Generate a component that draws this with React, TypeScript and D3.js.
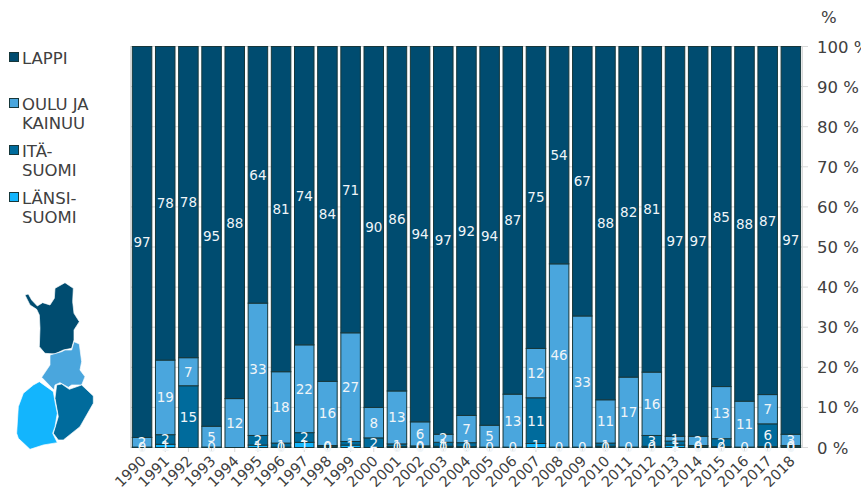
import React from "react";
import * as d3 from "d3";

const years = ["1990","1991","1992","1993","1994","1995","1996","1997","1998","1999","2000","2001","2002","2003","2004","2005","2006","2007","2008","2009","2010","2011","2012","2013","2014","2015","2016","2017","2018"];
const lansi = [0.1,0.8,0,0.1,0,0.6,0.1,1.3,0.2,0.6,0,0.2,0.1,0.3,0.2,0.1,0.1,1,0.1,0.1,0.3,0.1,0.3,0.6,0.2,0.2,0.1,0.2,0.3];
const ita = [0,2.4,15.4,0,0,2.4,1,2.4,0.3,0.9,2.4,0.7,0.3,1,1,0,0,11.4,0,0,0.8,0,2.7,1,0.3,2,0,5.7,0.2];
const oulu = [2.41,18.6,7,5.2,12.2,33,17.8,21.9,16,27.1,7.6,13.2,6,2,6.8,5.45,13.2,12.3,45.7,32.7,10.8,17.45,15.8,1.2,2.3,13,11.45,7.3,2.8];
const lappi = [97.49,78.2,77.6,94.7,87.8,64,81.1,74.4,83.5,71.4,90,85.9,93.6,96.7,92,94.45,86.7,75.3,54.2,67.2,88.1,82.45,81.2,97.2,97.2,84.8,88.45,86.8,96.7];
const seriesColors = ["#13b5fd", "#006b9c", "#4aa6dd", "#004c70"];
const yTicks = [0,10,20,30,40,50,60,70,80,90,100];
const legendItems = [
  { lines: ["LAPPI"], color: "#004c70", y: 58 },
  { lines: ["OULU JA", "KAINUU"], color: "#4aa6dd", y: 104 },
  { lines: ["ITÄ-", "SUOMI"], color: "#006b9c", y: 151 },
  { lines: ["LÄNSI-", "SUOMI"], color: "#13b5fd", y: 198 },
];
const mapShapes = [
  { color: "#004c70", d: "M75,75L85,72L95,90L112,108L128,98L150,105L163,85L165,55L195,38L220,55L218,95L222,130L238,155L222,180L222,210L215,235L190,240L165,252L135,250L118,230L120,175L118,135L110,118L90,105Z" },
  { color: "#4aa6dd", d: "M150,255L185,245L195,240L215,240L222,215L238,222L245,275L240,300L255,320L245,345L215,345L205,352L180,338L165,345L162,360L125,322L150,285Z" },
  { color: "#006b9c", d: "M170,345L185,342L208,358L245,345L280,378L280,400L240,470L190,510L175,510L160,490L175,440L165,385Z" },
  { color: "#13b5fd", d: "M118,335L160,365L165,395L172,430L165,470L158,490L172,518L130,525L90,538L55,505L50,490L55,410L70,370L100,345Z" },
];

const font = "'DejaVu Sans', Verdana, sans-serif";

export default function App() {
  const x = d3.scaleBand<string>().domain(years).range([132.3, 800.6]).paddingInner(0.158).paddingOuter(0);
  const y = d3.scaleLinear().domain([0, 100]).range([447.5, 46.5]);
  const rows = years.map((yr, i) => ({ yr, a: lansi[i], b: ita[i], c: oulu[i], d: lappi[i] }));
  const stacked = d3.stack<any>().keys(["a", "b", "c", "d"])(rows);
  return (
    <svg width={861} height={488} style={{ position: "absolute", left: 0, top: 0, fontFamily: font }}>
      {yTicks.map((t) => (
        <g key={t}>
          <line x1={130} x2={808} y1={y(t)} y2={y(t)} stroke="#d9d9d9" strokeWidth={1} />
          <text x={817} y={y(t) + 6} fontSize={16.5} fill="#404040">{t} %</text>
        </g>
      ))}
      <line x1={130.5} x2={130.5} y1={46} y2={448} stroke="#d9d9d9" />
      <line x1={802.5} x2={802.5} y1={46} y2={448} stroke="#d9d9d9" />
      <text x={821} y={23} fontSize={16.5} fill="#404040">%</text>
      {years.map((yr) => {
        const cx = (x(yr) as number) + x.bandwidth() / 2;
        return <line key={yr} x1={cx} x2={cx} y1={447} y2={452} stroke="#d9d9d9" />;
      })}
      {stacked.map((s, si) => s.map((p, i) => {
        const bx = x(years[i]) as number;
        return (
          <rect key={`${si}-${i}`} x={bx} width={x.bandwidth()} y={y(p[1])} height={Math.max(0, y(p[0]) - y(p[1]))}
            fill={seriesColors[si]} stroke="#17373a" strokeWidth={1} />
        );
      }))}
      {stacked.map((s, si) => s.map((p, i) => {
        const v = p[1] - p[0];
        if (v === 0) return null;
        const cx = (x(years[i]) as number) + x.bandwidth() / 2;
        return (
          <text key={`l${si}-${i}`} x={cx} y={y((p[0] + p[1]) / 2) + 5} textAnchor="middle" fontSize={13.5} fill="#f0f5f8">
            {d3.format(".0f")(v)}
          </text>
        );
      }))}
      {years.map((yr) => {
        const cx = (x(yr) as number) + x.bandwidth() / 2;
        return (
          <text key={yr} transform={`translate(${cx + 5},${462}) rotate(-45)`} textAnchor="end" fontSize={14.5} fill="#404040">{yr}</text>
        );
      })}
      {legendItems.map((l) => (
        <g key={l.lines[0]}>
          <rect x={9.5} y={l.y - 5.5} width={9} height={9} fill={l.color} stroke="#17373a" />
          {l.lines.map((t, i) => (
            <text key={t} x={22} y={l.y + 5.5 + i * 19.5} fontSize={16.5} fill="#404040">{t}</text>
          ))}
        </g>
      ))}
      <g transform="translate(0,270) scale(0.3333)">
        {mapShapes.map((m) => (
          <path key={m.color} d={m.d} fill={m.color} stroke="#ffffff" strokeWidth={2} strokeLinejoin="round" />
        ))}
      </g>
    </svg>
  );
}
